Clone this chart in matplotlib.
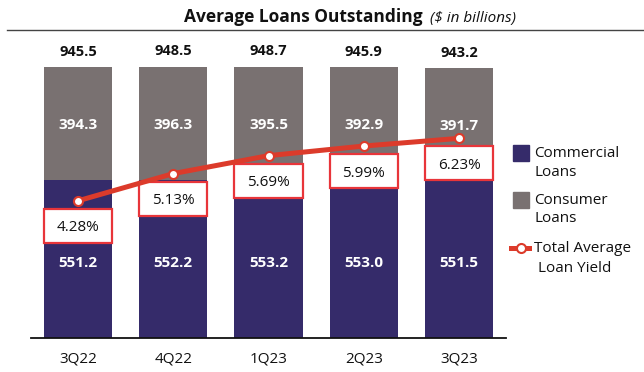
import matplotlib
matplotlib.use("Agg")
import matplotlib.pyplot as plt
from matplotlib.lines import Line2D
from matplotlib.patches import Rectangle
import numpy as np

plt.rcParams['font.family'] = ['Open Sans', 'DejaVu Sans']

quarters = ["3Q22", "4Q22", "1Q23", "2Q23", "3Q23"]
commercial = [551.2, 552.2, 553.2, 553.0, 551.5]
consumer = [394.3, 396.3, 395.5, 392.9, 391.7]
totals = [945.5, 948.5, 948.7, 945.9, 943.2]
yield_pct = [4.28, 5.13, 5.69, 5.99, 6.23]

C_COM = "#352b6a"
C_CON = "#797171"
C_RED = "#dc3b2b"
C_BOX = "#e8353a"

W, H = 644, 372
fig = plt.figure(figsize=(W / 100, H / 100), dpi=100)

def fx(x):
    return x / W

def fy(y):
    return 1 - y / H

ax = fig.add_axes([fx(31), fy(338), (506 - 31) / W, (338 - 39) / H])
x = np.arange(len(quarters))
bw = 0.714
ax.bar(x, commercial, width=bw, color=C_COM, zorder=2)
ax.bar(x, consumer, width=bw, bottom=commercial, color=C_CON, zorder=2)
ax.set_xlim(-0.493, len(quarters) - 1 + 0.493)
ax.set_ylim(0, 1045)
for s in ["top", "right", "left"]:
    ax.spines[s].set_visible(False)
ax.spines["bottom"].set_linewidth(1.3)
ax.spines["bottom"].set_color("#111111")
ax.set_yticks([])
ax.set_xticks(x)
ax.set_xticklabels(quarters, fontsize=11, color="#111111")
ax.tick_params(axis="x", length=0, pad=10)

for i in range(len(quarters)):
    ax.text(x[i], commercial[i] / 2 - 8, f"{commercial[i]:.1f}", ha="center", va="center_baseline",
            color="white", fontsize=11, fontweight="bold", zorder=3)
    ax.text(x[i], commercial[i] + consumer[i] / 2, f"{consumer[i]:.1f}", ha="center",
            va="center_baseline", color="white", fontsize=11, fontweight="bold", zorder=3)
    ax.annotate(f"{totals[i]:.1f}", (x[i], totals[i]), xytext=(0, 12), textcoords="offset points",
                ha="center", va="center_baseline", fontsize=10.5, fontweight="bold", color="#111111")

ax2 = ax.twinx()
ax2.set_ylim(0, 9.33)
ax2.axis("off")
px_per_unit = 32.05
box_h = 34 / px_per_unit
off = 25 / px_per_unit
yv = np.array(yield_pct)
ax2.bar(x, box_h, width=bw, bottom=yv - off - box_h / 2, color="white",
        edgecolor=C_BOX, linewidth=1.6, zorder=3)
for i in range(len(quarters)):
    ax2.text(x[i], yv[i] - off, f"{yield_pct[i]:.2f}%", ha="center", va="center_baseline",
             fontsize=11, color="#111111", zorder=4)
ax2.plot(x, yv, color=C_RED, lw=3.6, zorder=5, solid_capstyle="round")
ax2.plot(x, yv, ls="none", marker="o", ms=6.5, mfc="white", mec=C_RED, mew=1.5, zorder=6)

# Title
fig.text(fx(423), fy(22), "Average Loans Outstanding", ha="right", va="baseline",
         fontsize=12.5, fontweight="bold", color="#111111")
fig.text(fx(430), fy(22), "($ in billions)", ha="left", va="baseline",
         fontsize=11, fontstyle="italic", color="#111111")
fig.add_artist(Line2D([fx(7), fx(644)], [fy(30), fy(30)], transform=fig.transFigure,
                      color="#444444", lw=1.0))

# Legend
fig.add_artist(Rectangle((fx(513), fy(161)), 16 / W, 16 / H, transform=fig.transFigure,
                         color=C_COM))
fig.add_artist(Rectangle((fx(513), fy(208)), 16 / W, 16 / H, transform=fig.transFigure,
                         color=C_CON))
fig.add_artist(Line2D([fx(511), fx(529)], [fy(248), fy(248)], transform=fig.transFigure,
                      color=C_RED, lw=3.6))
fig.add_artist(Line2D([fx(521)], [fy(248)], transform=fig.transFigure, marker="o", ms=6.5,
                      mfc="white", mec=C_RED, mew=1.5, ls="none"))
leg_lines = [("Commercial", 534, 153), ("Loans", 534, 172),
             ("Consumer", 534, 200), ("Loans", 534, 219),
             ("Total Average", 534, 248), ("Loan Yield", 538, 268)]
for t, lx, ly in leg_lines:
    fig.text(fx(lx), fy(ly), t, ha="left", va="center", fontsize=11, color="#111111")

fig.savefig("out.png", dpi=100)
